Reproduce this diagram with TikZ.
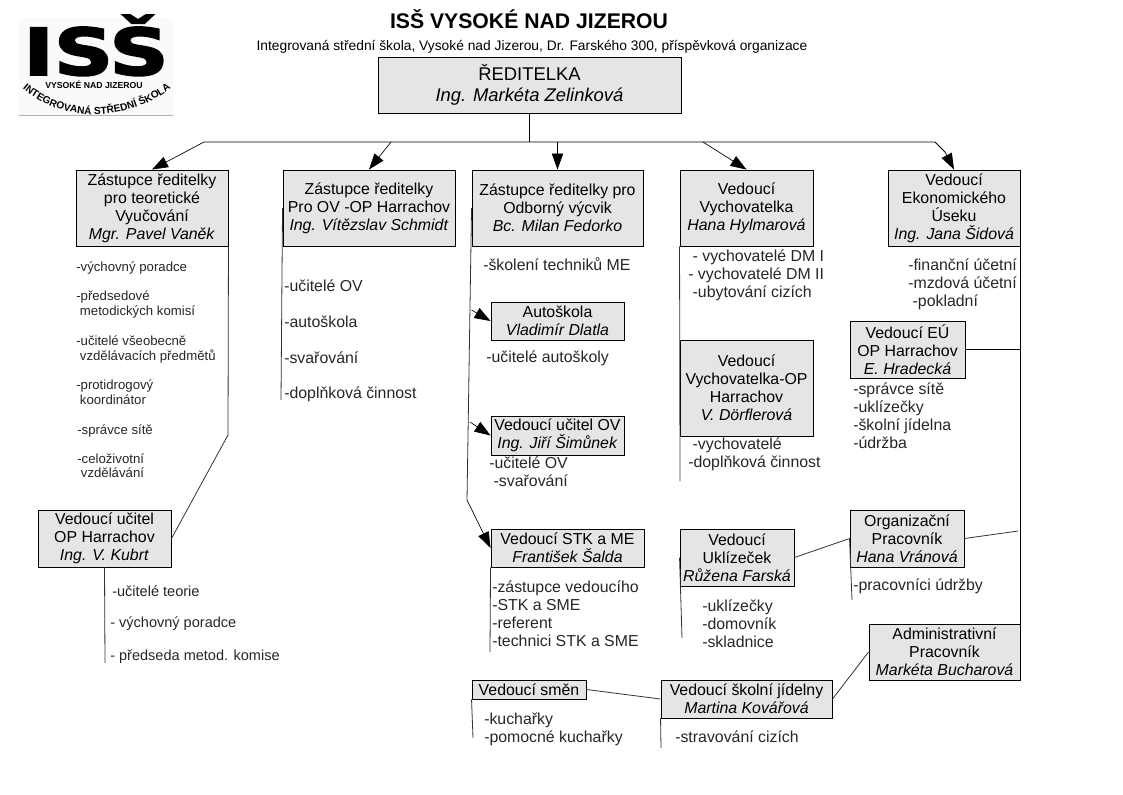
\documentclass[tikz,border=0pt]{standalone}
\usepackage{fontspec}
\setmainfont{Liberation Sans}
\newfontfamily\logofont[BoldFeatures={FakeBold=2.5}]{DejaVu Sans}
\usepackage{tikz}
\usetikzlibrary{arrows.meta, positioning, calc, decorations.text}
\definecolor{boxgray}{RGB}{229,229,229}
\definecolor{linegray}{RGB}{50,50,50}
\tikzset{
    staffbox/.style 2 args={rectangle, draw=black, fill=boxgray, line width=0.7pt, inner sep=0pt, align=center, font=\fontsize{11.9}{13.5}\selectfont, minimum width=#1*0.75pt, minimum height=#2*0.75pt},
    duty/.style={anchor=west, inner sep=0pt, align=left, font=\fontsize{11.9}{13.5}\selectfont, text=black!85},
    midduty/.style={duty, font=\fontsize{10.9}{13.5}\selectfont},
    smallduty/.style={anchor=north west, inner sep=0pt, align=left, font=\fontsize{9.9}{11.2}\selectfont, text=black!85},
    arrow/.style={-{Triangle[length=12pt, width=8.5pt]}, line width=0.5pt, black},
    link/.style={line width=0.6pt, linegray},
    busline/.style={line width=0.7pt, black},
}
\begin{document}
\begin{tikzpicture}[x=0.75pt, y=-0.75pt]
\useasboundingbox (0,0) rectangle (1123,794);

% Logo
\fill[black!2] (19,18) rectangle (173,115);
\draw[black!30, line width=0.5pt] (19,115.5) -- (173,115.5);
\node[inner sep=0pt, anchor=base, font=\logofont\bfseries\fontsize{54}{54}\selectfont, xscale=1.14, yscale=0.9] (logo-big) at (96,75) {ISŠ};
\node[inner sep=0pt, font=\bfseries\fontsize{6.5}{7}\selectfont] (logo-place) at (94,85) {VYSOKÉ NAD JIZEROU};
\path[postaction={decorate, decoration={text along path, text align=center, text={|\bfseries\fontsize{7.6}{8}\selectfont|INTEGROVANÁ STŘEDNÍ ŠKOLA}}}] (20,86) .. controls (60,124) and (128,124) .. (174,86);

% Title
\node[inner sep=0pt, font=\bfseries\fontsize{15.9}{18}\selectfont] (title) at (529,19) {ISŠ VYSOKÉ NAD JIZEROU};
\node[inner sep=0pt, font=\fontsize{10.35}{12}\selectfont] (subtitle) at (532,47) {Integrovaná střední škola, Vysoké nad Jizerou, Dr. Farského 300, příspěvková organizace};

% Boxes
\node[staffbox={303}{56}, font=\fontsize{13.8}{15.5}\selectfont] (director) at (529.5,85) {ŘEDITELKA\\\textit{Ing. Markéta Zelinková}};
\node[staffbox={152}{76}] (deputy-theory) at (152,208) {Zástupce ředitelky\\pro teoretické\\Vyučování\\\textit{Mgr. Pavel Vaněk}};
\node[staffbox={172}{76}] (deputy-ov) at (369,208) {Zástupce ředitelky\\Pro OV -OP Harrachov\\\textit{Ing. Vítězslav Schmidt}};
\node[staffbox={171}{76}] (deputy-train) at (557.5,208) {Zástupce ředitelky pro\\Odborný výcvik\\\textit{Bc. Milan Fedorko}};
\node[staffbox={133}{76}] (educator) at (746.5,208) {Vedoucí\\Vychovatelka\\\textit{Hana Hylmarová}};
\node[staffbox={132}{76}] (economy) at (954,208) {Vedoucí\\Ekonomického\\Úseku\\\textit{Ing. Jana Šidová}};
\node[staffbox={133}{38}] (driving) at (557.5,321) {Autoškola\\\textit{Vladimír Dlatla}};
\node[staffbox={133}{39}] (teacher-ov) at (557.5,435.5) {Vedoucí učitel OV\\\textit{Ing. Jiří Šimůnek}};
\node[staffbox={153}{38}] (stk) at (567.5,548) {Vedoucí STK a ME\\\textit{František Šalda}};
\node[staffbox={133}{96}] (educator-op) at (746.5,388) {Vedoucí\\Vychovatelka-OP\\Harrachov\\\textit{V. Dörflerová}};
\node[staffbox={133}{57}] (teacher-op) at (104.5,538.5) {Vedoucí učitel\\OP Harrachov\\\textit{Ing. V. Kubrt}};
\node[staffbox={115}{57}] (economy-op) at (907.5,349.5) {Vedoucí EÚ\\OP Harrachov\\\textit{E. Hradecká}};
\node[staffbox={114}{57}] (organizer) at (907,538.5) {Organizační\\Pracovník\\\textit{Hana Vránová}};
\node[staffbox={114}{57}] (cleaners) at (737,557.5) {Vedoucí\\Uklízeček\\\textit{Růžena Farská}};
\node[staffbox={151}{56}] (admin) at (944.5,652) {Administrativní\\Pracovník\\\textit{Markéta Bucharová}};
\node[staffbox={171}{38}] (canteen) at (746.5,699) {Vedoucí školní jídelny\\\textit{Martina Kovářová}};
\node[staffbox={114}{19}] (shifts) at (529,689.5) {Vedoucí směn};

% Duties
\node[smallduty] (list-theory1) at (76,262) {-výchovný poradce};
\node[smallduty] (list-theory2) at (76,291) {-předsedové\\\ metodických komisí};
\node[smallduty] (list-theory3) at (76,336) {-učitelé všeobecně\\\ vzdělávacích předmětů};
\node[smallduty] (list-theory4) at (76,380) {-protidrogový\\\ koordinátor};
\node[smallduty] (list-theory5) at (77,424) {-správce sítě};
\node[smallduty] (list-theory6) at (77,453) {-celoživotní\\\ vzdělávání};
\node[duty] (list-ov1) at (284,286) {-učitelé OV};
\node[duty] (list-ov2) at (284,322) {-autoškola};
\node[duty] (list-ov3) at (284,358) {-svařování};
\node[duty] (list-ov4) at (284,394) {-doplňková činnost};
\node[midduty] (list-kubrt1) at (112,591) {-učitelé teorie};
\node[midduty] (list-kubrt2) at (110,624) {- výchovný poradce};
\node[midduty] (list-kubrt3) at (110,657) {- předseda metod. komise};
\node[duty] (list-train) at (483,264) {-školení techniků ME};
\node[duty] (list-driving) at (486,358) {-učitelé autoškoly};
\node[duty] (list-teacher) at (489,472) {-učitelé OV\\\ -svařování};
\node[duty] (list-stk) at (492,614) {-zástupce vedoucího\\-STK a SME\\-referent\\-technici STK a SME};
\node[duty, anchor=north west] (list-edu) at (688,250) {\ - vychovatelé DM I\\- vychovatelé DM II\\\ -ubytování cizích};
\node[duty] (list-eduop) at (688,454) {\ -vychovatelé\\-doplňková činnost};
\node[duty] (list-eco) at (908,284) {-finanční účetní\\-mzdová účetní\\\ -pokladní};
\node[duty] (list-ecoop) at (853,416) {-správce sítě\\-uklízečky\\-školní jídelna\\-údržba};
\node[duty] (list-org) at (853,586) {-pracovníci údržby};
\node[duty] (list-clean) at (702,624) {-uklízečky\\-domovník\\-skladnice};
\node[duty] (list-shifts) at (484,729) {-kuchařky\\-pomocné kuchařky};
\node[duty] (list-canteen) at (675,737) {-stravování cizích};

% Bus from director
\coordinate (bus-left) at (204,142);
\coordinate (bus-right) at (935,142);
\coordinate (bus-ov) at (391,142);
\coordinate (bus-train) at (557.5,142);
\coordinate (bus-edu) at (703,142);
\coordinate (bus-eco) at (945,152);
\draw[busline] (director.south) -- (director.south |- bus-left);
\draw[busline] (bus-left) -- (bus-right) -- (bus-eco);
\draw[arrow] (bus-left) -- (deputy-theory.north);
\draw[arrow] (bus-ov) -- (deputy-ov.north);
\draw[arrow] (bus-train) -- (deputy-train.north);
\draw[arrow] (bus-edu) -- (educator.north);
\draw[arrow] (bus-eco) -- (economy.north);

% Deputy for theory
\coordinate (theory-end) at (228,435);
\draw[link] (deputy-theory.south east) -- (theory-end) -- (teacher-op.east);
\coordinate (kubrt-end) at (105,663);
\draw[link] (teacher-op.south) -- (kubrt-end);

% Deputy for OV
\coordinate (ov-end) at (281,400);
\draw[link] (deputy-ov.west) -- (ov-end);

% Deputy for training
\coordinate (train-end) at (467,500);
\coordinate (train-a) at (471.5,310);
\coordinate (train-b) at (470,422);
\draw[link] (deputy-train.west) -- (train-end);
\draw[arrow] (train-a) -- (driving.west);
\draw[arrow] (train-b) -- (teacher-ov.west);
\draw[arrow] (train-end) -- (stk.west);
\coordinate (stk-end) at (490,652);
\draw[link] (stk.south west) -- (stk-end);

% Educators
\coordinate (edu-end) at (680,481);
\draw[link] (educator.south west) -- (edu-end);

% Economy
\coordinate (eco-mid) at (economy-op.east -| economy.south east);
\coordinate (org-end) at (1018,531);
\draw[busline] (economy.south east) -- (admin.north east);
\draw[busline] (economy-op.east) -- (eco-mid);
\draw[link] (organizer.east) -- (org-end);
\draw[link] (cleaners.east) -- (organizer.west);
\coordinate (cleaners-end) at (682,638);
\draw[link] (cleaners.west) -- (cleaners-end);
\coordinate (organizer-end) at (852,600);
\draw[link] (organizer.west) -- (organizer-end);
\draw[link] (canteen.east) -- (admin.west);
\draw[link] (shifts.east) -- (canteen.west);
\coordinate (canteen-end) at (661,748);
\draw[link] (canteen.south west) -- (canteen-end);
\coordinate (shifts-end) at (473,738);
\draw[link] (shifts.south west) -- (shifts-end);
\end{tikzpicture}
\end{document}
